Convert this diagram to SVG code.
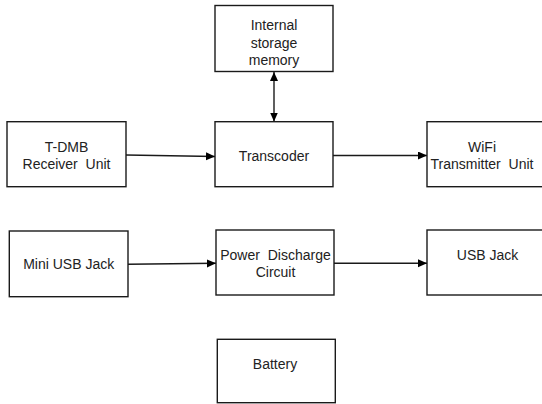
<svg xmlns="http://www.w3.org/2000/svg" width="542" height="404" viewBox="0 0 542 404">
<defs>
<style>
.box{fill:#fff;stroke:#1a1a1a;stroke-width:1.4}
.t{font-family:"Liberation Sans",Arial,sans-serif;font-size:14px;fill:#222;text-anchor:middle;white-space:pre}
.c{stroke:#1a1a1a;stroke-width:1.4;fill:none}
</style>
<marker id="ah" markerWidth="10" markerHeight="10" refX="9" refY="4" orient="auto" markerUnits="userSpaceOnUse">
<path d="M0,0 L9,4 L0,8 Z" fill="#000"/>
</marker>
<marker id="as" markerWidth="10" markerHeight="10" refX="0" refY="4" orient="auto" markerUnits="userSpaceOnUse">
<path d="M9,0 L0,4 L9,8 Z" fill="#000"/>
</marker>
</defs>
<rect width="542" height="404" fill="#fff"/>
<g id="connectors">
<line class="c" x1="126" y1="155" x2="215" y2="156.5" marker-end="url(#ah)"/>
<line class="c" x1="333" y1="155.5" x2="427" y2="155.5" marker-end="url(#ah)"/>
<line class="c" x1="274" y1="72" x2="274" y2="121.5" marker-start="url(#as)" marker-end="url(#ah)"/>
<line class="c" x1="128" y1="264.3" x2="216" y2="263.3" marker-end="url(#ah)"/>
<line class="c" x1="334" y1="263.3" x2="427" y2="263.3" marker-end="url(#ah)"/>
</g>
<g id="internal-storage">
<rect class="box" x="215" y="5.5" width="118" height="66"/>
<text class="t" x="274" y="29.5">Internal</text>
<text class="t" x="274" y="47.5">storage</text>
<text class="t" x="274" y="65">memory</text>
</g>
<g id="tdmb">
<rect class="box" x="7" y="121.7" width="119" height="65"/>
<text class="t" x="66.5" y="151.5">T-DMB</text>
<text class="t" x="66.5" y="169" xml:space="preserve">Receiver  Unit</text>
</g>
<g id="transcoder">
<rect class="box" x="215" y="121.7" width="118" height="65"/>
<text class="t" x="274" y="160.5">Transcoder</text>
</g>
<g id="wifi">
<rect class="box" x="427" y="121.7" width="120" height="65"/>
<text class="t" x="482" y="151.5">WiFi</text>
<text class="t" x="482" y="169" xml:space="preserve">Transmitter  Unit</text>
</g>
<g id="mini-usb">
<rect class="box" x="9.3" y="231" width="118.7" height="65.7"/>
<text class="t" x="68.7" y="268.5">Mini USB Jack</text>
</g>
<g id="power-discharge">
<rect class="box" x="216" y="230" width="118" height="65"/>
<text class="t" x="275.5" y="260" xml:space="preserve">Power  Discharge</text>
<text class="t" x="275.5" y="277">Circuit</text>
</g>
<g id="usb-jack">
<rect class="box" x="427" y="230" width="120" height="65"/>
<text class="t" x="487.5" y="260">USB Jack</text>
</g>
<g id="battery">
<rect class="box" x="217.3" y="339.3" width="118" height="63.4"/>
<text class="t" x="275" y="368.5">Battery</text>
</g>
</svg>
